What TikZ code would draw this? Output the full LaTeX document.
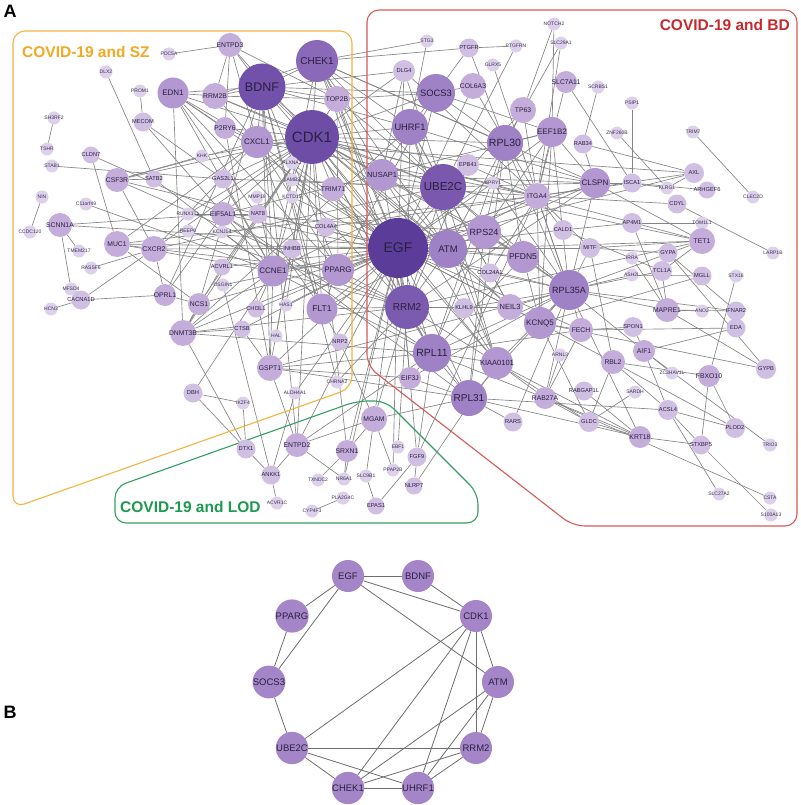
\documentclass[tikz,border=0pt]{standalone}
\usepackage{fontspec}
\setmainfont{Liberation Sans}
\pgfdeclarelayer{bglayer}
\pgfdeclarelayer{edgelayer}
\pgfsetlayers{bglayer,edgelayer,main}
\definecolor{cT}{HTML}{DDD0EA}
\definecolor{cS}{HTML}{D1BFE3}
\definecolor{cM}{HTML}{C4ACDB}
\definecolor{cL}{HTML}{B397D0}
\definecolor{cXL}{HTML}{9F81C5}
\definecolor{cXXL}{HTML}{8A69B9}
\definecolor{cCDK}{HTML}{6D4DA6}
\definecolor{cEGF}{HTML}{5B3C98}
\definecolor{cB}{HTML}{A486C8}
\definecolor{lblc}{HTML}{2A2040}
\definecolor{lblt}{HTML}{3E3150}
\definecolor{edgec}{HTML}{858585}
\definecolor{edgeb}{HTML}{6E6E6E}
\definecolor{boxy}{HTML}{F2B441}
\definecolor{boxr}{HTML}{D65A55}
\definecolor{boxg}{HTML}{34A061}
\definecolor{txty}{HTML}{F3A923}
\definecolor{txtr}{HTML}{C62A2E}
\definecolor{txtg}{HTML}{1E9A50}
\tikzset{
  gn/.style={circle, inner sep=0pt, text=lblc},
  gT/.style={gn, minimum size=13pt, fill=cT, text=lblt, font=\fontsize{5}{5}\selectfont},
  gS/.style={gn, minimum size=19pt, fill=cS, font=\fontsize{5.7}{6}\selectfont},
  gM/.style={gn, minimum size=24pt, fill=cM, font=\fontsize{6.8}{7}\selectfont},
  gL/.style={gn, minimum size=31pt, fill=cL, font=\fontsize{8}{9}\selectfont},
  gXL/.style={gn, minimum size=37pt, fill=cXL, font=\fontsize{9.3}{10}\selectfont},
  gXXL/.style={gn, minimum size=45pt, fill=cXXL, font=\fontsize{11}{12}\selectfont},
  lnk/.style={draw=edgec, line width=0.65pt},
  lnkb/.style={draw=edgeb, line width=0.8pt},
  pb/.style={circle, inner sep=0pt, minimum size=32pt, fill=cB, text=lblc, font=\fontsize{9.5}{10}\selectfont},
  boxline/.style={line width=1.1pt, rounded corners=12pt},
  grptitle/.style={font=\bfseries\fontsize{15.5}{16}\selectfont, inner sep=0pt},
  paneltitle/.style={font=\bfseries\fontsize{18}{18}\selectfont, inner sep=0pt}
}
\newcommand{\gnode}[3]{\node[#1] (#2) at (#3) {\makebox[0pt]{#2}};}
\begin{document}
\begin{tikzpicture}[x=1pt,y=-1pt]
\begin{pgfonlayer}{bglayer}
\fill[white] (0,0) rectangle (800,805);
\end{pgfonlayer}
\useasboundingbox (0,0) rectangle (800,805);
% group boxes
\draw[boxline, draw=boxy] (13,31) -- (352,31) -- (352,388) -- (13,508) -- cycle;
\draw[boxline, draw=boxr] (367,10) -- (797,10) -- (797,526) -- (573,526) -- (367,366) -- cycle;
\draw[boxline, draw=boxg, rounded corners=11pt] (357,401) -- (386,401) -- (478,493) -- (478,523) -- (115,523) -- (115,487) -- cycle;
\node[grptitle, text=txty, anchor=west] (tSZ) at (22,52) {COVID-19 and SZ};
\node[grptitle, text=txtr, anchor=east] (tBD) at (790,25) {COVID-19 and BD};
\node[grptitle, text=txtg, anchor=west] (tLOD) at (120,507) {COVID-19 and LOD};
\node[paneltitle] (pA) at (10,11) {A};
\node[paneltitle] (pB) at (10,712) {B};
% ---- left / SZ
\gnode{gT}{PDC5A}{169,54}
\gnode{gM}{ENTPD3}{230,45}
\gnode{gT}{DLX2}{106,72}
\gnode{gT}{PROM1}{140,91}
\gnode{gL}{EDN1}{173,93}
\gnode{gM,minimum size=26pt}{RRM2B}{215,96}
\gnode{gXXL,minimum size=47pt,fill=cCDK!85!cXXL,font=\fontsize{12.5}{13}\selectfont}{BDNF}{262,87}
\gnode{gS}{MECOM}{143,122}
\gnode{gM,minimum size=22pt}{P2RY6}{225,128}
\gnode{gL,minimum size=32pt}{CXCL1}{257,142}
\gnode{gT}{SH3RF2}{54,118}
\gnode{gT}{TSHR}{47,149}
\gnode{gS,minimum size=17pt}{CLDN7}{91,155}
\gnode{gT}{KHK}{202,156}
\gnode{gT}{STAB1}{52,166}
\gnode{gM}{CSF3R}{117,180}
\gnode{gS,minimum size=17pt}{SATB2}{154,179}
\gnode{gS}{GAS2L1}{223,179}
\gnode{gT}{NIN}{42,197}
\gnode{gT}{MMP19}{257,197}
\gnode{gT}{C11orf49}{86,204}
\gnode{gT}{RUNX1T1}{188,214}
\gnode{gM}{EIF5AL1}{223,214}
\gnode{gS}{NAT8}{258,214}
\gnode{gM}{SCNN1A}{60,225}
\gnode{gT}{CCDC120}{30,232}
\gnode{gT}{REEP6}{188,231}
\gnode{gT}{KCNJ14}{222,232}
\gnode{gM,minimum size=26pt}{MUC1}{117,244}
\gnode{gM,minimum size=26pt}{CXCR2}{154,249}
\gnode{gT}{TMEM217}{79,251}
\gnode{gT}{RASSF6}{91,268}
\gnode{gS,minimum size=17pt}{ACVRL1}{222,267}
\gnode{gL}{CCNE1}{273,271}
\gnode{gT}{MFSD4}{71,289}
\gnode{gT}{OSGIN1}{223,285}
\gnode{gS}{CACNA1D}{81,300}
\gnode{gM,minimum size=22pt}{OPRL1}{165,295}
\gnode{gM,minimum size=22pt}{NCS1}{199,304}
\gnode{gS,minimum size=17pt}{CHI3L1}{256,309}
\gnode{gT}{HCN3}{51,309}
\gnode{gT}{HAS1}{286,305}
\gnode{gL,font=\fontsize{8.5}{9}\selectfont}{FLT1}{322,309}
\gnode{gM,minimum size=26pt}{DNMT3B}{183,333}
\gnode{gS,minimum size=17pt}{CTSB}{242,329}
\gnode{gT}{HAL}{276,336}
\gnode{gS,minimum size=17pt}{NRP2}{340,342}
\gnode{gM,minimum size=26pt}{GSPT1}{270,368}
\gnode{gS}{DBH}{193,393}
\gnode{gT}{CHRNA2}{337,382}
\gnode{gT}{ALDH4A1}{295,393}
\gnode{gT}{IKZF4}{243,403}
\gnode{gM,minimum size=26pt}{MGAM}{374,419}
\gnode{gM}{ENTPD2}{297,445}
\gnode{gM,minimum size=22pt}{SRXN1}{347,451}
\gnode{gT}{EBF1}{398,447}
\gnode{gS}{FGF9}{417,457}
\gnode{gT}{PPAP2B}{393,470}
\gnode{gS}{DTX1}{246,449}
\gnode{gS}{ANKK1}{271,475}
\gnode{gT}{TXNDC2}{318,480}
\gnode{gT}{NR6A1}{344,479}
\gnode{gT}{SLC9B1}{366,476}
\gnode{gS,minimum size=17pt}{NLRP7}{414,486}
\gnode{gT}{ACVR1C}{277,503}
\gnode{gT}{PLA2G4C}{343,498}
\gnode{gS,minimum size=17pt}{EPAS1}{376,506}
\gnode{gT}{CYP4F3}{312,511}
% ---- middle
\gnode{gXXL,minimum size=42pt,font=\fontsize{10}{11}\selectfont}{CHEK1}{317,61}
\gnode{gT}{STG3}{427,41}
\gnode{gS}{PTGFR}{469,48}
\gnode{gT}{PTGFRN}{516,46}
\gnode{gT}{GLRX5}{493,65}
\gnode{gS,minimum size=22pt}{DLG4}{404,71}
\gnode{gM,minimum size=26pt}{TOP2B}{337,99}
\gnode{gXL,minimum size=38pt}{SOCS3}{436,93}
\gnode{gM,minimum size=26pt}{COL6A3}{473,86}
\node[gn, minimum size=54pt, fill=cCDK, font=\fontsize{15}{16}\selectfont] (CDK1) at (312,137) {CDK1};
\gnode{gXL,minimum size=36pt}{UHRF1}{410,127}
\gnode{gM,minimum size=26pt}{TP63}{523,110}
\gnode{gXL,minimum size=36pt,font=\fontsize{10.5}{11}\selectfont}{RPL30}{505,143}
\gnode{gT}{PLXNA1}{292,163}
\gnode{gT}{LAMB3}{292,180}
\gnode{gT}{KCTD15}{292,197}
\gnode{gS,minimum size=22pt}{EPB41}{468,165}
\gnode{gL,minimum size=32pt,font=\fontsize{7.5}{8}\selectfont}{NUSAP1}{382,175}
\gnode{gXXL,minimum size=46pt,fill=cCDK!60!cXXL,font=\fontsize{11.5}{12}\selectfont}{UBE2C}{443,187}
\gnode{gM}{TRIM71}{333,189}
\gnode{gT}{SPRY1}{493,183}
\gnode{gS}{COL4A4}{326,227}
\gnode{gS}{INHBB}{292,249}
\node[gn, minimum size=60pt, fill=cEGF, font=\fontsize{14}{15}\selectfont] (EGF) at (398,248) {EGF};
\gnode{gXL,minimum size=38pt,font=\fontsize{9.5}{10}\selectfont}{ATM}{448,249}
\gnode{gL,minimum size=34pt,font=\fontsize{9}{10}\selectfont}{RPS24}{484,232}
\gnode{gL,minimum size=32pt,font=\fontsize{8.5}{9}\selectfont}{PFDN5}{523,257}
\gnode{gL,minimum size=32pt}{PPARG}{338,270}
\gnode{gS}{COL24A1}{490,273}
\gnode{gXXL,minimum size=44pt,fill=cCDK!50!cXXL,font=\fontsize{10}{11}\selectfont}{RRM2}{407,307}
\gnode{gS,minimum size=20pt}{KLHL9}{464,308}
\gnode{gM,minimum size=26pt,font=\fontsize{7.5}{8}\selectfont}{NEIL3}{510,307}
\gnode{gXL,minimum size=38pt,font=\fontsize{10.5}{11}\selectfont}{RPL11}{432,353}
\gnode{gL,minimum size=32pt,font=\fontsize{7.5}{8}\selectfont}{KIAA0101}{497,363}
\gnode{gM,minimum size=22pt}{EIF3J}{410,378}
\gnode{gXL,minimum size=36pt,font=\fontsize{10}{11}\selectfont}{RPL31}{469,398}
\gnode{gS}{RARS}{513,422}
% ---- right / BD
\gnode{gT}{NOTCH2}{554,24}
\gnode{gT}{SLC29A1}{561,43}
\gnode{gM,minimum size=22pt}{SLC7A11}{566,82}
\gnode{gT}{SCRBS1}{598,87}
\gnode{gT}{PSIP1}{632,103}
\gnode{gL,minimum size=30pt}{EEF1B2}{552,132}
\gnode{gT}{ZNF260B}{617,133}
\gnode{gT}{TRIM7}{693,132}
\gnode{gS}{RAB34}{583,144}
\gnode{gS,minimum size=20pt}{AXL}{694,173}
\gnode{gL,minimum size=30pt}{CLSPN}{595,183}
\gnode{gS}{ISCA1}{632,183}
\gnode{gT}{KLRG1}{667,188}
\gnode{gS,minimum size=17pt}{ARHGEF6}{707,190}
\gnode{gT}{CLEC2D}{753,197}
\gnode{gM,minimum size=26pt}{ITGA4}{537,196}
\gnode{gS}{CDYL}{677,204}
\gnode{gS,minimum size=20pt}{CALD1}{563,230}
\gnode{gS,minimum size=20pt}{AP4M1}{632,223}
\gnode{gT}{TOM1L1}{702,223}
\gnode{gM,minimum size=26pt}{TET1}{702,241}
\gnode{gT}{LARP1B}{773,253}
\gnode{gS,minimum size=20pt}{MITF}{590,248}
\gnode{gT}{IRRA}{632,258}
\gnode{gS}{GYPA}{668,253}
\gnode{gT}{ASH2L}{632,275}
\gnode{gS,minimum size=20pt}{TCL1A}{662,271}
\gnode{gS}{MGLL}{702,276}
\gnode{gT}{STX18}{736,276}
\gnode{gXL,minimum size=40pt,font=\fontsize{9}{10}\selectfont}{RPL35A}{569,290}
\gnode{gM}{MAPRE1}{667,310}
\gnode{gT}{ANO2}{702,311}
\gnode{gS}{IFNAR2}{736,311}
\gnode{gL,minimum size=32pt}{KCNQ5}{540,323}
\gnode{gM}{FECH}{581,330}
\gnode{gS,minimum size=20pt}{SPON1}{633,327}
\gnode{gS}{EDA}{736,328}
\gnode{gM,minimum size=22pt}{AIF1}{644,351}
\gnode{gT}{ARNL3}{560,355}
\gnode{gM}{RBL2}{613,362}
\gnode{gT}{ZC3HAV1L}{672,373}
\gnode{gM,minimum size=22pt}{FBXO10}{709,376}
\gnode{gS,minimum size=20pt}{GYPB}{766,369}
\gnode{gM,minimum size=22pt}{RAB27A}{545,398}
\gnode{gS}{RABGAP1L}{584,391}
\gnode{gT}{SARDH}{635,392}
\gnode{gS,minimum size=20pt}{GLDC}{589,422}
\gnode{gS,minimum size=20pt}{ACSL4}{668,410}
\gnode{gM,minimum size=22pt}{KRT18}{640,437}
\gnode{gS}{STXBP5}{701,445}
\gnode{gS,minimum size=20pt}{PLOD2}{735,428}
\gnode{gT}{TRIO3}{770,445}
\gnode{gT}{SLC27A2}{719,494}
\gnode{gT}{CSTA}{770,498}
\gnode{gT}{S100A13}{771,515}
% ---- panel B
\node[pb] (bEGF) at (348,576) {EGF};
\node[pb] (bBDNF) at (418,576) {BDNF};
\node[pb] (bPPARG) at (292,616) {PPARG};
\node[pb] (bCDK1) at (476,616) {CDK1};
\node[pb] (bSOCS3) at (269,682) {SOCS3};
\node[pb] (bATM) at (498,682) {ATM};
\node[pb] (bUBE2C) at (292,748) {UBE2C};
\node[pb] (bRRM2) at (476,748) {RRM2};
\node[pb] (bCHEK1) at (348,788) {CHEK1};
\node[pb] (bUHRF1) at (418,788) {UHRF1};
\begin{pgfonlayer}{edgelayer}
\foreach \a/\b in {PDC5A/ENTPD3,ENTPD3/RRM2B,ENTPD3/P2RY6,ENTPD3/CXCL1,ENTPD3/CDK1,ENTPD3/TOP2B,ENTPD3/BDNF,
DLX2/SATB2,PROM1/MECOM,MECOM/GAS2L1,MECOM/CCNE1,
EDN1/BDNF,EDN1/RRM2B,EDN1/DNMT3B,EDN1/P2RY6,EDN1/CXCL1,EDN1/CDK1,EDN1/FLT1,EDN1/PPARG,EDN1/CCNE1,EDN1/EGF,
RRM2B/BDNF,RRM2B/CDK1,RRM2B/CHEK1,RRM2B/RRM2,RRM2B/UBE2C,RRM2B/TOP2B,
BDNF/CHEK1,BDNF/CDK1,BDNF/CXCL1,BDNF/EGF,BDNF/TOP2B,BDNF/DLG4,BDNF/SOCS3,BDNF/NCS1,BDNF/FLT1,BDNF/PPARG,BDNF/CCNE1,BDNF/GSPT1,BDNF/UHRF1,BDNF/ENTPD2,BDNF/OPRL1,BDNF/CHRNA2,BDNF/ATM,
CXCL1/CXCR2,CXCL1/EGF,CXCL1/P2RY6,CXCL1/PPARG,CXCL1/MUC1,CXCL1/CSF3R,CXCL1/CDK1,CXCL1/FLT1,CXCL1/ITGA4,CXCL1/AXL,
P2RY6/CDK1,P2RY6/GSPT1,SH3RF2/TSHR,STAB1/GAS2L1,CLDN7/EIF5AL1,CLDN7/MUC1,KHK/CSF3R,KHK/CDK1,
CSF3R/CXCR2,CSF3R/SATB2,CSF3R/EGF,CSF3R/CDK1,CSF3R/RRM2,SATB2/CCNE1,GAS2L1/CDK1,GAS2L1/UBE2C,GAS2L1/CCNE1,
NIN/CCDC120,C11orf49/CCNE1,RUNX1T1/EIF5AL1,RUNX1T1/CDK1,
EIF5AL1/NAT8,EIF5AL1/CDK1,EIF5AL1/RPL11,EIF5AL1/RPL31,EIF5AL1/SCNN1A,EIF5AL1/RPL35A,EIF5AL1/OPRL1,EIF5AL1/EEF1B2,EIF5AL1/RPS24,
MMP19/CCNE1,NAT8/EGF,SCNN1A/TMEM217,SCNN1A/MFSD4,SCNN1A/ATM,REEP6/RRM2,KCNJ14/CCNE1,
MUC1/CXCR2,MUC1/EGF,MUC1/ITGA4,MUC1/NCS1,MUC1/CCNE1,
CXCR2/OPRL1,CXCR2/RASSF6,CXCR2/CACNA1D,CXCR2/EGF,CXCR2/PPARG,CXCR2/CDK1,CXCR2/UBE2C,
ACVRL1/EGF,ACVRL1/DNMT3B,ACVRL1/CDK1,
CCNE1/CDK1,CCNE1/EGF,CCNE1/RRM2,CCNE1/CHEK1,CCNE1/UBE2C,CCNE1/ATM,CCNE1/GSPT1,CCNE1/RPL11,CCNE1/DNMT3B,
OSGIN1/EGF,OSGIN1/ANKK1,CACNA1D/HCN3,CACNA1D/OPRL1,OPRL1/NCS1,
NCS1/DNMT3B,NCS1/CDK1,NCS1/EGF,CHI3L1/EGF,CHI3L1/CCNE1,HAS1/EGF,HAS1/CDK1,
FLT1/EGF,FLT1/NRP2,FLT1/PPARG,FLT1/CDK1,FLT1/RRM2,FLT1/ITGA4,
DNMT3B/CTSB,DNMT3B/EGF,DNMT3B/RRM2,DNMT3B/DTX1,DNMT3B/CDK1,DNMT3B/RPL11,DNMT3B/UHRF1,
CTSB/EGF,CTSB/GSPT1,HAL/CDK1,NRP2/EGF,NRP2/MGAM,
GSPT1/RPL11,GSPT1/EGF,GSPT1/CDK1,GSPT1/RPL31,GSPT1/ENTPD2,GSPT1/EIF3J,GSPT1/RPL35A,
DBH/IKZF4,DBH/DTX1,DBH/CCNE1,IKZF4/DTX1,CHRNA2/RRM2,ALDH4A1/EGF,ALDH4A1/ANKK1,
MGAM/PPAP2B,MGAM/SLC9B1,MGAM/SRXN1,MGAM/EGF,MGAM/RRM2,MGAM/RPL31,MGAM/ENTPD2,
ENTPD2/ANKK1,ENTPD2/NR6A1,ENTPD2/CDK1,ENTPD2/EGF,ENTPD2/RPL11,
SRXN1/TXNDC2,SRXN1/NR6A1,SRXN1/EGF,SRXN1/CDK1,EBF1/RRM2,
FGF9/EPAS1,FGF9/NLRP7,FGF9/EGF,FGF9/ITGA4,FGF9/RPL11,PPAP2B/EGF,DTX1/ANKK1,ANKK1/ACVR1C,NR6A1/EGF,NLRP7/KIAA0101,PLA2G4C/CYP4F3,EPAS1/SLC9B1,
CHEK1/CDK1,CHEK1/STG3,CHEK1/PTGFR,CHEK1/UBE2C,CHEK1/RRM2,CHEK1/ATM,CHEK1/UHRF1,CHEK1/TOP2B,CHEK1/NUSAP1,CHEK1/CLSPN,CHEK1/EGF,CHEK1/RPL30,
STG3/UHRF1,PTGFR/PTGFRN,PTGFR/SOCS3,PTGFR/RPL30,PTGFRN/UBE2C,GLRX5/RPL35A,
DLG4/EGF,DLG4/UBE2C,DLG4/NUSAP1,DLG4/CDK1,DLG4/ITGA4,
TOP2B/CDK1,TOP2B/UBE2C,TOP2B/RRM2,TOP2B/EGF,TOP2B/PPARG,TOP2B/SOCS3,
SOCS3/EGF,SOCS3/UHRF1,SOCS3/COL6A3,SOCS3/PPARG,SOCS3/CDK1,SOCS3/RPL30,SOCS3/EEF1B2,
COL6A3/ITGA4,COL6A3/EGF,
CDK1/UBE2C,CDK1/RRM2,CDK1/ATM,CDK1/UHRF1,CDK1/NUSAP1,CDK1/TRIM71,CDK1/EGF,CDK1/PLXNA1,CDK1/LAMB3,CDK1/KIAA0101,CDK1/NEIL3,CDK1/CLSPN,CDK1/RPL11,CDK1/TET1,CDK1/RPS24,CDK1/ITGA4,CDK1/RPL30,CDK1/PFDN5,
UHRF1/UBE2C,UHRF1/RRM2,UHRF1/ATM,UHRF1/NUSAP1,UHRF1/CLSPN,UHRF1/KIAA0101,UHRF1/NEIL3,
TP63/EGF,TP63/RPL30,TP63/NOTCH2,TP63/ITGA4,TP63/ATM,
RPL30/RPL11,RPL30/RPL31,RPL30/RPS24,RPL30/RPL35A,RPL30/EEF1B2,RPL30/PFDN5,RPL30/SLC29A1,
PLXNA1/EGF,LAMB3/ITGA4,LAMB3/EGF,KCTD15/EGF,EPB41/ITGA4,EPB41/RRM2,
NUSAP1/UBE2C,NUSAP1/RRM2,NUSAP1/ATM,NUSAP1/KIAA0101,NUSAP1/CLSPN,
UBE2C/RRM2,UBE2C/ATM,UBE2C/EGF,UBE2C/KIAA0101,UBE2C/CLSPN,UBE2C/NEIL3,UBE2C/PFDN5,UBE2C/RPL35A,UBE2C/TET1,
TRIM71/EGF,TRIM71/RPL11,SPRY1/EGF,SPRY1/RPL35A,COL4A4/ITGA4,COL4A4/EGF,INHBB/EGF,INHBB/CCNE1,
EGF/ATM,EGF/RPS24,EGF/PPARG,EGF/RRM2,EGF/PFDN5,EGF/ITGA4,EGF/KCNQ5,EGF/RPL11,EGF/EIF3J,EGF/CLSPN,EGF/RPL35A,EGF/AXL,EGF/MITF,EGF/EEF1B2,EGF/CALD1,EGF/RPL31,EGF/KIAA0101,EGF/NEIL3,EGF/FECH,
ATM/RRM2,ATM/RPS24,ATM/CLSPN,ATM/KIAA0101,ATM/NEIL3,ATM/TET1,ATM/PFDN5,
RPS24/RPL35A,RPS24/RPL11,RPS24/RPL31,RPS24/PFDN5,RPS24/EEF1B2,
PFDN5/RPL35A,PFDN5/KCNQ5,PFDN5/RPL11,PPARG/RRM2,PPARG/ITGA4,COL24A1/ITGA4,
RRM2/RPL11,RRM2/KIAA0101,RRM2/KLHL9,RRM2/NEIL3,RRM2/CLSPN,RRM2/RPL31,RRM2/TET1,
KLHL9/RPL35A,NEIL3/KCNQ5,NEIL3/RPL35A,
RPL11/RPL31,RPL11/RPL35A,RPL11/KIAA0101,RPL11/EIF3J,RPL11/RAB27A,RPL11/FECH,
KIAA0101/RPL35A,KIAA0101/RAB27A,KIAA0101/GLDC,KIAA0101/KRT18,EIF3J/RPL35A,EIF3J/RPL31,
RPL31/RPL35A,RPL31/RARS,RPL31/KRT18,RPL31/ACSL4,RARS/RPL35A,
NOTCH2/EEF1B2,SLC29A1/ITGA4,SLC7A11/ISCA1,SLC7A11/ITGA4,SCRBS1/RAB34,PSIP1/ISCA1,
EEF1B2/RPL35A,EEF1B2/ITGA4,EEF1B2/CLSPN,EEF1B2/KCNQ5,ZNF260B/KLRG1,TRIM7/CLEC2D,
RAB34/AXL,RAB34/CLSPN,AXL/KLRG1,AXL/ITGA4,CLSPN/ISCA1,CLSPN/RPL35A,CLSPN/TET1,ISCA1/KLRG1,ISCA1/ARHGEF6,ISCA1/ITGA4,
ITGA4/CALD1,ITGA4/MITF,ITGA4/RPL35A,ITGA4/KCNQ5,CDYL/LARP1B,CDYL/ITGA4,CALD1/AP4M1,CALD1/TCL1A,AP4M1/TOM1L1,AP4M1/MAPRE1,
TET1/RPL35A,TET1/MITF,TET1/TCL1A,MITF/RPL35A,MITF/GYPA,MITF/RBL2,IRRA/MAPRE1,GYPA/GYPB,GYPA/IFNAR2,
ASH2L/MGLL,ASH2L/RPL35A,TCL1A/RPL35A,TCL1A/MAPRE1,MGLL/KCNQ5,STX18/FBXO10,
RPL35A/MAPRE1,RPL35A/FECH,RPL35A/KCNQ5,RPL35A/AIF1,RPL35A/RAB27A,RPL35A/KRT18,RPL35A/IFNAR2,
MAPRE1/ANO2,MAPRE1/IFNAR2,MAPRE1/GYPB,KCNQ5/FECH,KCNQ5/RBL2,KCNQ5/GLDC,FECH/SPON1,FECH/EDA,FECH/RAB27A,
SPON1/AIF1,AIF1/EDA,AIF1/ZC3HAV1L,AIF1/ACSL4,ARNL3/RAB27A,RBL2/FBXO10,RBL2/ACSL4,RBL2/GLDC,FBXO10/PLOD2,GYPB/KCNQ5,
RAB27A/KRT18,RAB27A/GLDC,RABGAP1L/KRT18,SARDH/GLDC,GLDC/KRT18,ACSL4/SLC27A2,ACSL4/PLOD2,ACSL4/STXBP5,
KRT18/STXBP5,STXBP5/S100A13,STXBP5/FBXO10,PLOD2/RBL2,TRIO3/AIF1,CSTA/RAB27A}
  \draw[lnk] (\a) -- (\b);
\foreach \a/\b in {bEGF/bBDNF,bEGF/bPPARG,bEGF/bSOCS3,bEGF/bCDK1,bEGF/bATM,bBDNF/bCDK1,bPPARG/bSOCS3,bSOCS3/bUBE2C,
bCDK1/bATM,bCDK1/bRRM2,bCDK1/bUBE2C,bCDK1/bCHEK1,bCDK1/bUHRF1,bATM/bRRM2,bATM/bCHEK1,bATM/bUHRF1,
bRRM2/bUBE2C,bRRM2/bCHEK1,bRRM2/bUHRF1,bUBE2C/bCHEK1,bUBE2C/bUHRF1,bCHEK1/bUHRF1}
  \draw[lnkb] (\a) -- (\b);
\end{pgfonlayer}
\end{tikzpicture}
\end{document}
